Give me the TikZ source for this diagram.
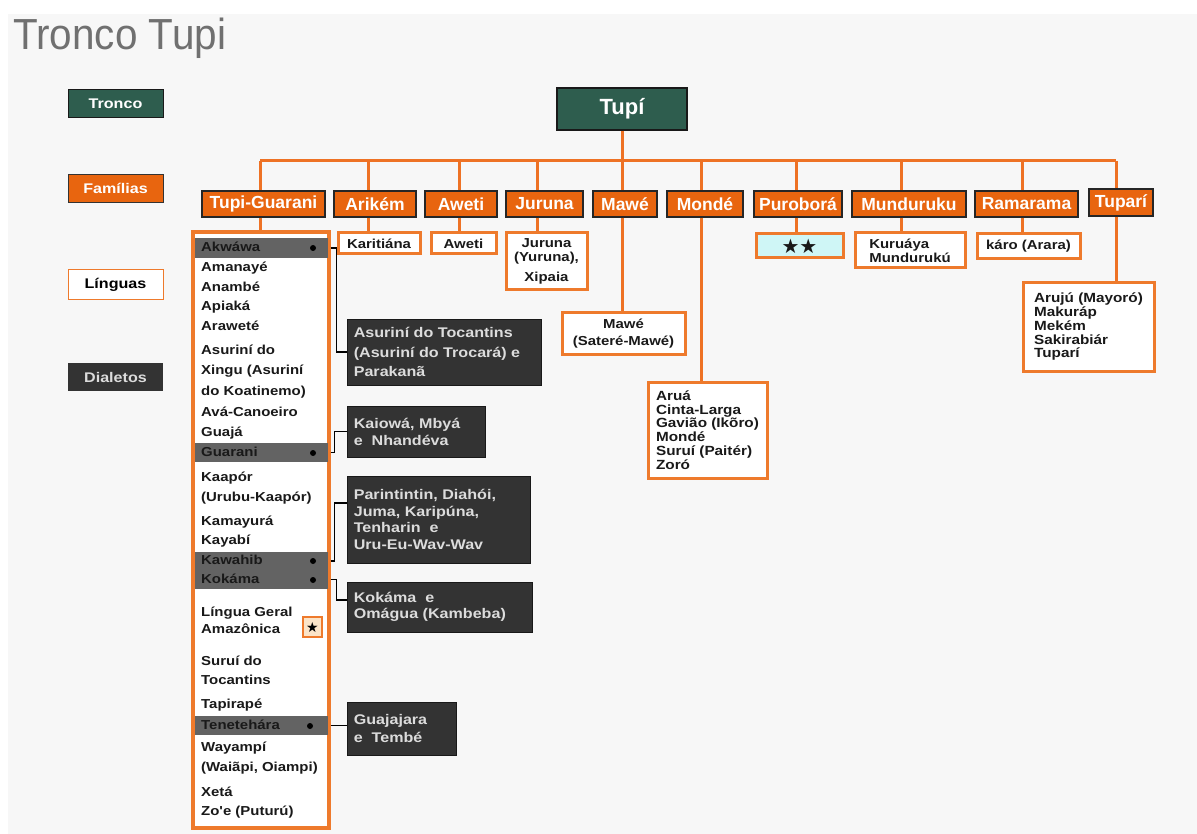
\documentclass[tikz,border=0pt]{standalone}
\usepackage{fontspec}
\setmainfont{Liberation Sans}
\newfontfamily\wide{Liberation Sans}[FakeStretch=1.15]
\newfontfamily\narrowf{Liberation Sans}[FakeStretch=0.93]
\newfontfamily\symf{DejaVu Sans}
\usetikzlibrary{calc}
\definecolor{bg}{HTML}{F7F7F7}
\definecolor{tgreen}{HTML}{2E5D4E}
\definecolor{forange}{HTML}{E8650F}
\definecolor{lorange}{HTML}{EE7A2C}
\definecolor{treeor}{HTML}{EE7225}
\definecolor{rowgray}{HTML}{636363}
\definecolor{dgray}{HTML}{333333}
\definecolor{dtext}{HTML}{DCDCDC}
\definecolor{cyanbox}{HTML}{CFF6F6}
\definecolor{peach}{HTML}{FBE4C8}
\definecolor{titlegray}{HTML}{707070}
\begin{document}
\begin{tikzpicture}[x=1pt,y=-1pt,
  fambox/.style={draw=black!85, line width=1.5pt, fill=forange, text=white, font=\bfseries\fontsize{17.5}{17.5}\selectfont, inner sep=0pt},
  langbox/.style={draw=lorange, line width=3pt, fill=white, text=black!90, font=\wide\bfseries\fontsize{13}{14}\selectfont, inner sep=0pt, align=center},
  legbox/.style={inner sep=0pt, minimum width=95pt, font=\wide\bfseries\fontsize{14}{14}\selectfont},
  listtext/.style={anchor=west, inner sep=0pt, font=\wide\bfseries\fontsize{13}{14}\selectfont, text=black!90, text height=9.5pt, text depth=2.5pt},
  grayrow/.style={fill=rowgray, inner sep=0pt, minimum width=133pt},
  blackdot/.style={circle, fill=black, inner sep=0pt, minimum size=6pt},
  dialbox/.style={fill=dgray, draw=black!90, line width=0.8pt, inner sep=0pt},
  dialtext/.style={anchor=west, align=left, inner sep=0pt, text=dtext},
  treeline/.style={draw=treeor, line width=3pt},
  dialline/.style={draw=black, line width=1.2pt}
]
\useasboundingbox (0,0) rectangle (1197,834);
\fill[white] (0,0) rectangle (1197,834);
\fill[bg] (8,14) rectangle (1197,834);

% title
\node[anchor=base west, inner sep=0pt, text=titlegray, font=\narrowf\fontsize{43.5}{43.5}\selectfont] (title) at (13,50) {Tronco Tupi};

% legend
\node[legbox, fill=tgreen, draw=black!90, line width=1pt, text=white, minimum height=28pt] (lgTronco) at (115.5,104) {Tronco};
\node[legbox, fill=forange, draw=black!80, line width=1pt, text=white, minimum height=28pt] (lgFam) at (115.5,188.5) {Famílias};
\node[legbox, fill=white, draw=lorange, line width=1pt, text=black, minimum height=30pt] (lgLing) at (115.5,285) {Línguas};
\node[legbox, fill=dgray, text=dtext, minimum height=28pt] (lgDial) at (115.5,377) {Dialetos};

% trunk
\node[fill=tgreen, draw=black!90, line width=1.5pt, text=white, font=\bfseries\fontsize{22}{22}\selectfont, minimum width=130pt, minimum height=42pt, inner sep=0pt] (tupi) at (622,109) {Tupí};

% families
\node[fambox, minimum width=123pt, minimum height=26pt] (fTG) at (263.5,204) {Tupi-Guarani};
\node[fambox, minimum width=82pt, minimum height=26pt] (fAri) at (375,204) {Arikém};
\node[fambox, minimum width=72pt, minimum height=26pt] (fAwe) at (461,204) {Aweti};
\node[fambox, minimum width=77pt, minimum height=26pt] (fJur) at (544.5,204) {Juruna};
\node[fambox, minimum width=64pt, minimum height=26pt] (fMaw) at (625,204) {Mawé};
\node[fambox, minimum width=76pt, minimum height=26pt] (fMon) at (705,204) {Mondé};
\node[fambox, minimum width=88pt, minimum height=26pt] (fPur) at (798,204) {Puroborá};
\node[fambox, minimum width=114pt, minimum height=26pt] (fMun) at (909,204) {Munduruku};
\node[fambox, minimum width=103pt, minimum height=26pt] (fRam) at (1026.5,204) {Ramarama};
\node[fambox, minimum width=64pt, minimum height=27pt] (fTup) at (1121,202.5) {Tuparí};

% drop coordinates
\coordinate (barL) at (260,161);
\coordinate (barR) at (1116,161);
\coordinate (dTG) at (260,161);
\coordinate (dAri) at (368,161);
\coordinate (dAwe) at (459,161);
\coordinate (dJur) at (537,161);
\coordinate (dMaw) at (622,161);
\coordinate (dMon) at (701,161);
\coordinate (dPur) at (796,161);
\coordinate (dMun) at (901,161);
\coordinate (dRam) at (1022,161);
\coordinate (dTup) at (1116,161);

% language boxes
\node[langbox, line width=3.2pt, minimum width=136pt, minimum height=596pt] (lTG) at (261,530) {};
\node[langbox, minimum width=82pt, minimum height=21pt] (lAri) at (379,243.5) {Karitiána};
\node[langbox, minimum width=65pt, minimum height=21pt] (lAwe) at (463.5,243.5) {Aweti};
\node[langbox, minimum width=81pt, minimum height=57pt] (lJur) at (546.5,261.5) {Juruna\\(Yuruna),\\[6pt]Xipaia};
\node[langbox, minimum width=123pt, minimum height=42pt, font=\wide\bfseries\fontsize{13}{17}\selectfont] (lMaw) at (623.5,334) {Mawé\\(Sateré-Mawé)};
\node[langbox, minimum width=119pt, minimum height=96pt, align=left, font=\wide\bfseries\fontsize{13.3}{13.8}\selectfont] (lMon) at (707.5,430) {Aruá\\Cinta-Larga\\Gavião (Ikõro)\\Mondé\\Suruí (Paitér)\\Zoró};
\node[langbox, fill=cyanbox, minimum width=87pt, minimum height=24pt, font=\symf\fontsize{20}{20}\selectfont] (lPur) at (799.5,246) {★★};
\node[langbox, minimum width=110pt, minimum height=35pt, align=left] (lMun) at (910,250.5) {Kuruáya\\Mundurukú};
\node[langbox, minimum width=103pt, minimum height=25pt] (lRam) at (1028.5,246.5) {káro (Arara)};
\node[langbox, minimum width=131pt, minimum height=88pt, align=left, font=\wide\bfseries\fontsize{13.3}{13.75}\selectfont] (lTup) at (1088.5,327) {Arujú (Mayoró)\\Makuráp\\Mekém\\Sakirabiár\\Tuparí};

% tree connectors
\draw[treeline] (barL) -- (barR);
\draw[treeline] (tupi.south) -- (dMaw |- fMaw.north);
\foreach \d/\f in {dTG/fTG, dAri/fAri, dAwe/fAwe, dJur/fJur, dMon/fMon, dPur/fPur, dMun/fMun, dRam/fRam, dTup/fTup}
  \draw[treeline] (\d) -- (\d |- \f.north);
\foreach \d/\f/\l in {dTG/fTG/lTG, dAri/fAri/lAri, dAwe/fAwe/lAwe, dJur/fJur/lJur, dMaw/fMaw/lMaw, dMon/fMon/lMon, dPur/fPur/lPur, dMun/fMun/lMun, dRam/fRam/lRam, dTup/fTup/lTup}
  \draw[treeline] (\d |- \f.south) -- (\d |- \l.north);

% gray rows in Tupi-Guarani list
\node[grayrow, minimum height=20pt] (rAkw) at (261,248) {};
\node[grayrow, minimum height=19pt] (rGua) at (261,452.5) {};
\node[grayrow, minimum height=18pt] (rKaw) at (261,561) {};
\node[grayrow, minimum height=19pt] (rKok) at (261,579.5) {};
\node[grayrow, minimum height=19pt] (rTen) at (261,725.5) {};

% list texts
\node[listtext] (t1) at (201,248) {Akwáwa};
\node[listtext] (t2) at (201,268) {Amanayé};
\node[listtext] (t3) at (201,288) {Anambé};
\node[listtext] (t4) at (201,307) {Apiaká};
\node[listtext] (t5) at (201,327) {Araweté};
\node[listtext] (t6) at (201,351) {Asuriní do};
\node[listtext] (t7) at (201,371) {Xingu (Asuriní};
\node[listtext] (t8) at (201,392) {do Koatinemo)};
\node[listtext] (t9) at (201,413) {Avá-Canoeiro};
\node[listtext] (t10) at (201,433) {Guajá};
\node[listtext] (t11) at (201,453) {Guarani};
\node[listtext] (t12) at (201,478) {Kaapór};
\node[listtext] (t13) at (201,498) {(Urubu-Kaapór)};
\node[listtext] (t14) at (201,522) {Kamayurá};
\node[listtext] (t15) at (201,541) {Kayabí};
\node[listtext] (t16) at (201,561) {Kawahib};
\node[listtext] (t17) at (201,580) {Kokáma};
\node[listtext] (t18) at (201,613) {Língua Geral};
\node[listtext] (t19) at (201,630) {Amazônica};
\node[listtext] (t20) at (201,662) {Suruí do};
\node[listtext] (t21) at (201,681) {Tocantins};
\node[listtext] (t22) at (201,705) {Tapirapé};
\node[listtext] (t23) at (201,726) {Tenetehára};
\node[listtext] (t24) at (201,748) {Wayampí};
\node[listtext] (t25) at (201,768) {(Waiãpi, Oiampi)};
\node[listtext] (t26) at (201,793) {Xetá};
\node[listtext] (t27) at (201,812) {Zo'e (Puturú)};

% dots and star
\node[blackdot] (k1) at (313,248) {};
\node[blackdot] (k2) at (313,453) {};
\node[blackdot] (k3) at (313,561) {};
\node[blackdot] (k4) at (313,580) {};
\node[blackdot] (k5) at (310,726) {};
\node[fill=peach, draw=lorange, line width=1.2pt, minimum width=19pt, minimum height=20pt, inner sep=0pt, font=\symf\fontsize{14}{14}\selectfont] (star) at (312.5,627) {★};

% dialect boxes
\node[dialbox, minimum width=194pt, minimum height=66pt] (dAsu) at (444,352) {};
\node[dialtext, font=\wide\bfseries\fontsize{14}{19.5}\selectfont] (xAsu) at ([xshift=7pt]dAsu.west) {Asuriní do Tocantins\\(Asuriní do Trocará) e\\Parakanã};
\node[dialbox, minimum width=138pt, minimum height=51pt] (dKai) at (416,431.5) {};
\node[dialtext, font=\wide\bfseries\fontsize{14}{17}\selectfont] (xKai) at ([xshift=7pt]dKai.west) {Kaiowá, Mbyá\\e\ \ Nhandéva};
\node[dialbox, minimum width=183pt, minimum height=87pt] (dPar) at (438.5,519.5) {};
\node[dialtext, font=\wide\bfseries\fontsize{14}{16.7}\selectfont] (xPar) at ([xshift=7pt]dPar.west) {Parintintin, Diahói,\\Juma, Karipúna,\\Tenharin\ \ e\\Uru-Eu-Wav-Wav};
\node[dialbox, minimum width=185pt, minimum height=50pt] (dKok) at (439.5,607) {};
\node[dialtext, font=\wide\bfseries\fontsize{14}{16}\selectfont] (xKok) at ([xshift=7pt]dKok.west) {Kokáma\ \ e\\Omágua (Kambeba)};
\node[dialbox, minimum width=109pt, minimum height=53pt] (dGua) at (401.5,728.5) {};
\node[dialtext, font=\wide\bfseries\fontsize{14}{18}\selectfont] (xGua) at ([xshift=7pt]dGua.west) {Guajajara\\e\ \ Tembé};

% dialect connectors
\draw[dialline] (rAkw.east -| lTG.east) -- ++(6,0) |- (dAsu.west);
\draw[dialline] (rGua.east -| lTG.east) -- ++(4,0) |- (dKai.west);
\draw[dialline] (rKaw.east -| lTG.east) -- ++(4,0) |- ([yshift=16.5pt]dPar.west);
\draw[dialline] (rKok.east -| lTG.east) -- ++(6,0) |- ([yshift=7pt]dKok.west);
\draw[dialline] (rTen.east -| lTG.east) -- (rTen.east -| dGua.west);
\end{tikzpicture}
\end{document}
